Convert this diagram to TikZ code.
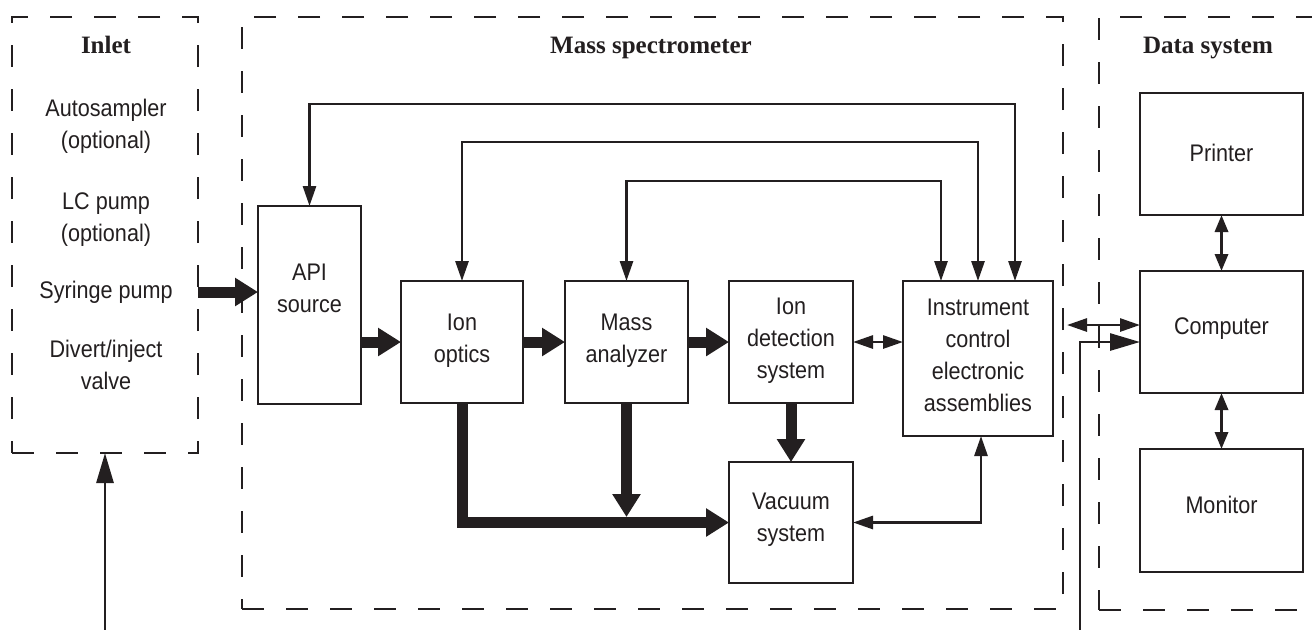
\documentclass[tikz,border=0pt]{standalone}
\usepackage{fontspec}
\setmainfont{Liberation Sans}[FakeStretch=0.9]
\newfontfamily\titlefont{Liberation Serif}
\usetikzlibrary{arrows.meta}
\definecolor{ink}{RGB}{35,31,32}
\begin{document}
\begin{tikzpicture}[x=0.5pt,y=-0.5pt,
  box/.style={draw=ink, line width=1.4pt, inner sep=0pt, outer sep=0pt},
  group/.style={draw=ink, line width=1.2pt, dash pattern=on 11pt off 11pt, inner sep=0pt, outer sep=0pt},
  lbl/.style={font=\fontsize{12}{16}\selectfont, align=center, anchor=base, text=ink, inner sep=0pt},
  ttl/.style={font=\titlefont\bfseries\fontsize{12.5}{15}\selectfont, anchor=base, text=ink, inner sep=0pt},
  dbl/.style={draw=ink, line width=1.4pt, {Triangle[length=10pt,width=6.5pt]}-{Triangle[length=10pt,width=6.5pt]}},
  dbls/.style={draw=ink, line width=1.6pt, {Triangle[length=8.5pt,width=6.5pt]}-{Triangle[length=8.5pt,width=6.5pt]}},
  big/.style={draw=ink, line width=1.4pt, -{Triangle[length=15pt,width=8.5pt]}},
  thk/.style={draw=ink, line width=5.5pt, line join=miter, -{Triangle[length=11.5pt,width=13.5pt]}}
]
\clip (0,0) rectangle (1312,629);
\fill[white] (0,0) rectangle (1312,629);

% group frames
\node[group, minimum width=93pt, minimum height=218pt] (inlet) at (105,235) {};
\node[group, minimum width=410.5pt, minimum height=296pt] (ms) at (652.5,313) {};
\node[group, minimum width=115.5pt, minimum height=296.5pt] (ds) at (1214.5,313.5) {};

\node[ttl] (inlett) at (106,53) {Inlet};
\node[ttl] (mst) at (651,53) {Mass spectrometer};
\node[ttl] (dst) at (1208,53) {Data system};

% inlet texts (anchored at the baseline of the last line)
\node[lbl] (auto) at (106,148) {Autosampler\\(optional)};
\node[lbl] (lc) at (106,241) {LC pump\\(optional)};
\node[lbl] (syr) at (106,298) {Syringe pump};
\node[lbl] (div) at (106,389) {Divert/inject\\valve};

% boxes
\node[box, minimum width=51.5pt, minimum height=99pt] (api) at (309.5,305) {};
\node[lbl] (apit) at (309.5,312) {API\\source};
\node[box, minimum width=61pt, minimum height=61pt] (ionopt) at (462,342) {};
\node[lbl] (ionoptt) at (462,362) {Ion\\optics};
\node[box, minimum width=61.5pt, minimum height=61pt] (mass) at (626.5,342) {};
\node[lbl] (masst) at (626.5,362) {Mass\\analyzer};
\node[box, minimum width=62pt, minimum height=61pt] (iondet) at (791,342) {};
\node[lbl] (iondett) at (791,378) {Ion\\detection\\system};
\node[box, minimum width=75pt, minimum height=77.5pt] (instr) at (978,358.5) {};
\node[lbl] (instrt) at (978,411) {Instrument\\control\\electronic\\assemblies};
\node[box, minimum width=62pt, minimum height=60.5pt] (vac) at (791,522.5) {};
\node[lbl] (vact) at (791,541) {Vacuum\\system};
\node[box, minimum width=81.5pt, minimum height=61pt] (printer) at (1221.5,154) {};
\node[lbl] (printert) at (1221.5,161) {Printer};
\node[box, minimum width=81.5pt, minimum height=61pt] (computer) at (1221.5,332) {};
\node[lbl] (computert) at (1221.5,334) {Computer};
\node[box, minimum width=81.5pt, minimum height=61.5pt] (monitor) at (1221.5,510.5) {};
\node[lbl] (monitort) at (1221.5,513) {Monitor};

% helper coordinates
\coordinate (top1) at (0,104);
\coordinate (top2) at (0,142);
\coordinate (top3) at (0,181);
\coordinate (syry) at (0,292);
\coordinate (bus) at (0,517);
\coordinate (cl) at (1067,325);
\coordinate (feedy) at (0,342);
\coordinate (feedbot) at (1080,640);
\coordinate (inbot) at (105,640);

% control loops
\draw[dbl] (api.north) -- (api.north |- top1) -| ([xshift=18.5pt]instr.north);
\draw[dbl] (ionopt.north) -- (ionopt.north |- top2) -| (instr.north);
\draw[dbl] (mass.north) -- (mass.north |- top3) -| ([xshift=-18.5pt]instr.north);

% ion flow
\draw[thk] (inlet.east |- syry) -- (api.west |- syry);
\draw[thk] (api.east |- ionopt.west) -- (ionopt.west);
\draw[thk] (ionopt.east) -- (mass.west);
\draw[thk] (mass.east) -- (iondet.west);
\draw[thk] (iondet.south) -- (vac.north);
\draw[thk] (ionopt.south) |- (vac.west);
\draw[thk] (mass.south) -- (mass.south |- bus);

% other links
\draw[dbl] (iondet.east) -- (instr.west |- iondet.east);
\draw[dbl] ([xshift=1.5pt]instr.south) |- (vac.east);
\draw[dbl] (cl) -- (computer.west |- cl);
\draw[big] (feedbot) |- (computer.west |- feedy);
\draw[big] (inbot) -- (inbot |- inlet.south);
\draw[dbls] (printer.south) -- (computer.north);
\draw[dbls] (computer.south) -- (monitor.north);
\end{tikzpicture}
\end{document}
